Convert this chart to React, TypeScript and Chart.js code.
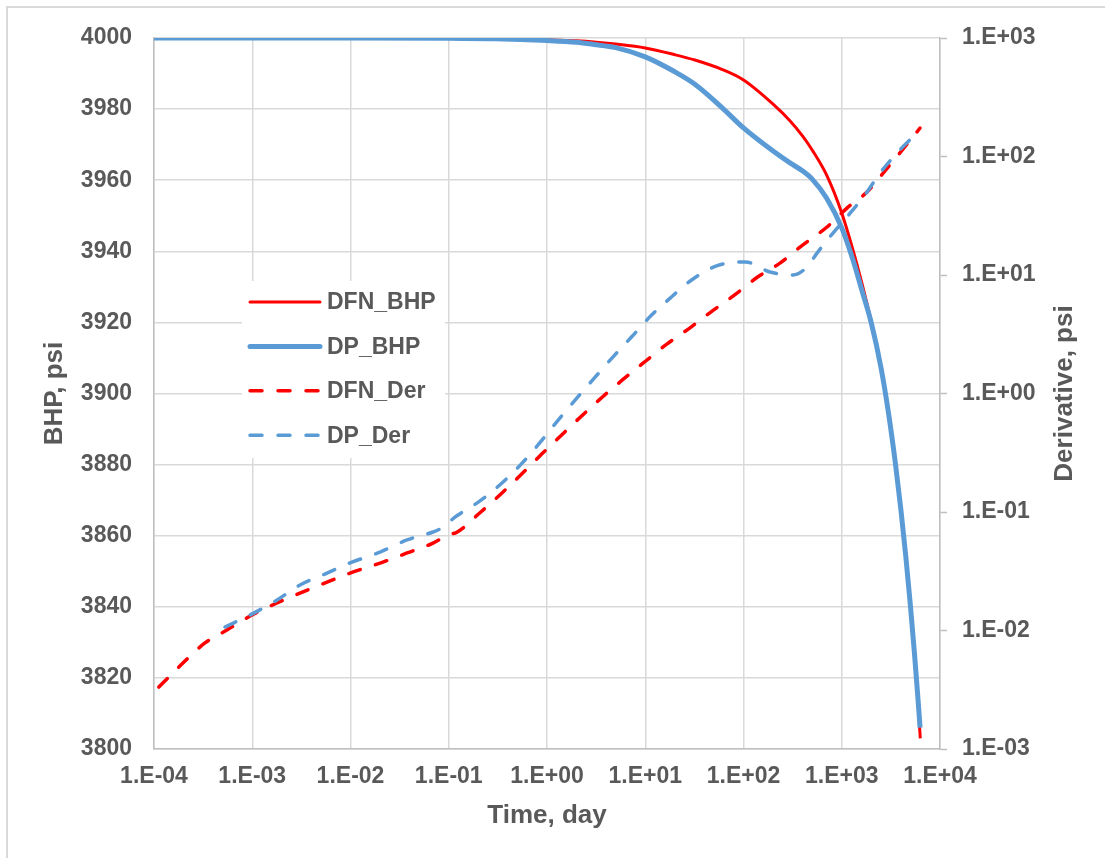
import { useEffect, useRef } from 'react';
import { Chart, registerables } from 'chart.js';

Chart.register(...registerables);

// ---- data ----
const dfnBhpTime = [1e-4, 1e-3, 1e-2, 0.1, 0.3, 1, 2, 3, 5, 10, 20, 32, 60, 100, 200, 300, 400, 500, 700, 1000, 1300, 1600, 2000, 2500, 3000, 3500, 4000, 4500, 5000, 5500, 6000, 6300];
const dfnBhp = [4000, 4000, 4000, 4000, 3999.9, 3999.5, 3999.2, 3998.9, 3998.3, 3997.2, 3995.3, 3993.8, 3991.2, 3988.2, 3981.4, 3976.6, 3972.4, 3968.5, 3961.5, 3950.8, 3940.4, 3931.1, 3920.1, 3907.3, 3894, 3880.5, 3867, 3853.4, 3839.8, 3826, 3812, 3803];

const dpBhpTime = [1e-4, 1e-3, 1e-2, 0.1, 0.3, 1, 2, 3, 5, 10, 20, 32, 60, 100, 200, 300, 400, 500, 700, 1000, 1300, 1600, 2000, 2500, 3000, 3500, 4000, 4500, 5000, 5500, 6000, 6270];
const dpBhp = [4000, 4000, 4000, 3999.9, 3999.8, 3999.3, 3998.8, 3998.2, 3997.3, 3994.7, 3990.5, 3987, 3980.5, 3974.7, 3968.2, 3964.8, 3962.6, 3960.3, 3955.0, 3946.6, 3937.6, 3929.1, 3919.8, 3907.5, 3894.3, 3880.8, 3867.3, 3853.8, 3840.3, 3826.8, 3813.3, 3806];

const dfnDerTime = [1.12e-4, 1.97e-4, 3.3e-4, 5.53e-4, 9.93e-4, 1.79e-3, 3.06e-3, 5.77e-3, 9.89e-3, 0.0214, 0.0376, 0.0692, 0.0982, 0.121, 0.208, 0.346, 0.552, 0.883, 1.41, 2.25, 3.69, 5.98, 10.2, 16.7, 29.0, 48.6, 83.9, 138, 235, 376, 708, 1130, 1807, 2891, 4613, 6266];
const dfnDer = [0.00333, 0.00532, 0.00785, 0.0101, 0.0135, 0.0171, 0.0207, 0.0256, 0.0305, 0.0378, 0.0451, 0.0547, 0.064, 0.0676, 0.0986, 0.144, 0.209, 0.308, 0.447, 0.646, 0.94, 1.32, 1.89, 2.62, 3.62, 5.0, 6.92, 9.57, 12.6, 17.2, 25.4, 36.7, 50.1, 79.4, 127, 174];

const dpDerTime = [5.28e-4, 9.48e-4, 1.79e-3, 3.06e-3, 5.77e-3, 9.89e-3, 0.02, 0.0376, 0.0692, 0.0815, 0.12, 0.208, 0.346, 0.552, 0.863, 1.3, 2.0, 3.01, 4.73, 7.28, 11.6, 18.6, 30.1, 54.1, 104, 186, 319, 443, 560, 815, 1130, 1807, 2449, 3917, 5970];
const dpDer = [0.0107, 0.0135, 0.0181, 0.0242, 0.0305, 0.0372, 0.0459, 0.0581, 0.0678, 0.0719, 0.0925, 0.124, 0.175, 0.256, 0.392, 0.597, 0.91, 1.34, 2.05, 3.01, 4.59, 6.56, 9.16, 12.0, 12.9, 10.6, 10.0, 11.7, 15.3, 22.6, 30.9, 50.1, 72.4, 114, 161];

const xTickValues = [1e-4, 1e-3, 1e-2, 1e-1, 1, 10, 100, 1000, 10000];
const xTickLabels = ['1.E-04', '1.E-03', '1.E-02', '1.E-01', '1.E+00', '1.E+01', '1.E+02', '1.E+03', '1.E+04'];
const derTickValues = [1e-3, 1e-2, 1e-1, 1, 10, 100, 1000];
const derTickLabels = ['1.E-03', '1.E-02', '1.E-01', '1.E+00', '1.E+01', '1.E+02', '1.E+03'];

const seriesNames = ['DFN_BHP', 'DP_BHP', 'DFN_Der', 'DP_Der'];
const RED = '#ff0000';
const BLUE = '#5b9bd5';
const TEXT = '#595959';
const FONT = '"Liberation Sans", Arial, sans-serif';

const zip = (xs: number[], ys: number[]) => xs.map((x, i) => ({ x, y: ys[i] }));
const findLabel = (vals: number[], labels: string[], v: number) => {
  const i = vals.findIndex((t) => Math.abs(Math.log10(t) - Math.log10(v)) < 1e-6);
  return i >= 0 ? labels[i] : '';
};

const framePlugin = {
  id: 'frame',
  beforeDraw(chart: any) {
    const ctx = chart.ctx;
    ctx.save();
    ctx.fillStyle = '#ffffff';
    ctx.fillRect(0, 0, chart.width, chart.height);
    ctx.strokeStyle = '#d9d9d9';
    ctx.lineWidth = 2;
    ctx.strokeRect(7, 7, chart.width + 20, chart.height + 20);
    ctx.restore();
  },
};

const legendPlugin = {
  id: 'insideLegend',
  afterDraw(chart: any) {
    const ctx = chart.ctx;
    ctx.save();
    ctx.fillStyle = '#ffffff';
    ctx.fillRect(242, 281, 203, 177);
    const x0 = 250;
    const x1 = 320;
    chart.data.datasets.forEach((ds: any, i: number) => {
      const y = 302 + i * 44.4;
      ctx.beginPath();
      ctx.strokeStyle = ds.borderColor;
      ctx.lineWidth = ds.borderWidth;
      ctx.lineCap = 'round';
      ctx.setLineDash(ds.borderDash || []);
      ctx.moveTo(x0, y);
      ctx.lineTo(x1, y);
      ctx.stroke();
      ctx.setLineDash([]);
      ctx.fillStyle = TEXT;
      ctx.font = `bold 23px ${FONT}`;
      ctx.textAlign = 'left';
      ctx.textBaseline = 'middle';
      ctx.fillText(ds.label, 327, y + 1);
    });
    // right axis title (reads bottom-to-top like the left one)
    const area = chart.chartArea;
    ctx.translate(1065, (area.top + area.bottom) / 2);
    ctx.rotate(-Math.PI / 2);
    ctx.fillStyle = TEXT;
    ctx.font = `bold 26px ${FONT}`;
    ctx.textAlign = 'center';
    ctx.textBaseline = 'middle';
    ctx.fillText('Derivative, psi', 0, 0);
    ctx.restore();
  },
};

export default function App() {
  const ref = useRef<HTMLCanvasElement | null>(null);

  useEffect(() => {
    if (!ref.current) return;
    const tickFont = { family: FONT, size: 23, weight: 'bold' as const };
    const titleFont = { family: FONT, size: 26, weight: 'bold' as const };
    const chart = new Chart(ref.current, {
      type: 'line',
      data: {
        datasets: [
          {
            label: seriesNames[0],
            data: zip(dfnBhpTime, dfnBhp),
            borderColor: RED,
            backgroundColor: RED,
            borderWidth: 3,
            yAxisID: 'y',
            order: 4,
          },
          {
            label: seriesNames[1],
            data: zip(dpBhpTime, dpBhp),
            borderColor: BLUE,
            backgroundColor: BLUE,
            borderWidth: 5,
            yAxisID: 'y',
            order: 3,
          },
          {
            label: seriesNames[2],
            data: zip(dfnDerTime, dfnDer),
            borderColor: RED,
            backgroundColor: RED,
            borderWidth: 3.5,
            borderDash: [12, 16],
            borderCapStyle: 'round',
            yAxisID: 'y1',
            order: 2,
          },
          {
            label: seriesNames[3],
            data: zip(dpDerTime, dpDer),
            borderColor: BLUE,
            backgroundColor: BLUE,
            borderWidth: 3.5,
            borderDash: [12, 16],
            borderCapStyle: 'round',
            yAxisID: 'y1',
            order: 1,
          },
        ],
      },
      options: {
        animation: false,
        responsive: false,
        devicePixelRatio: 1,
        elements: {
          point: { radius: 0, hoverRadius: 0 },
          line: { cubicInterpolationMode: 'monotone', borderJoinStyle: 'round' },
        },
        layout: { padding: { top: 38, left: 0, right: 0, bottom: 0 } },
        plugins: {
          legend: { display: false },
          tooltip: { enabled: false },
          title: { display: false },
        },
        scales: {
          x: {
            type: 'logarithmic',
            position: 'bottom',
            min: 1e-4,
            max: 1e4,
            afterBuildTicks: (scale: any) => {
              scale.ticks = xTickValues.map((value) => ({ value }));
            },
            afterFit: (scale: any) => {
              scale.height = 109;
            },
            ticks: {
              autoSkip: false,
              maxRotation: 0,
              minRotation: 0,
              padding: 14,
              color: TEXT,
              font: tickFont,
              callback: (v: any) => findLabel(xTickValues, xTickLabels, Number(v)),
            },
            grid: { color: '#d9d9d9', lineWidth: 1.5, drawTicks: false },
            border: { color: '#bfbfbf', width: 1.5 },
            title: {
              display: true,
              text: 'Time, day',
              color: TEXT,
              font: titleFont,
              padding: { top: 0, bottom: 27 },
            },
          },
          y: {
            type: 'linear',
            position: 'left',
            min: 3800,
            max: 4000,
            afterFit: (scale: any) => {
              scale.width = 154;
            },
            ticks: {
              stepSize: 20,
              padding: 22,
              color: TEXT,
              font: tickFont,
              callback: (v: any) => String(Math.round(Number(v))),
            },
            grid: { color: '#d9d9d9', lineWidth: 1.5, drawTicks: false },
            border: { color: '#bfbfbf', width: 1.5 },
            title: {
              display: true,
              text: 'BHP, psi',
              color: TEXT,
              font: titleFont,
              padding: { top: 39, bottom: 0 },
            },
          },
          y1: {
            type: 'logarithmic',
            position: 'right',
            min: 1e-3,
            max: 1e3,
            afterBuildTicks: (scale: any) => {
              scale.ticks = derTickValues.map((value) => ({ value }));
            },
            afterFit: (scale: any) => {
              scale.width = 165;
            },
            ticks: {
              autoSkip: false,
              padding: 15,
              color: TEXT,
              font: tickFont,
              callback: (v: any) => findLabel(derTickValues, derTickLabels, Number(v)),
            },
            grid: {
              drawOnChartArea: false,
              drawTicks: true,
              tickLength: 7,
              tickColor: '#bfbfbf',
              tickWidth: 1.5,
              color: '#bfbfbf',
            },
            border: { color: '#bfbfbf', width: 1.5 },
          },
        },
      } as any,
      plugins: [framePlugin, legendPlugin],
    });
    return () => chart.destroy();
  }, []);

  return (
    <div style={{ position: 'fixed', left: 0, top: 0, width: 1105, height: 858 }}>
      <canvas ref={ref} width={1105} height={858} style={{ display: 'block', width: 1105, height: 858 }} />
    </div>
  );
}
